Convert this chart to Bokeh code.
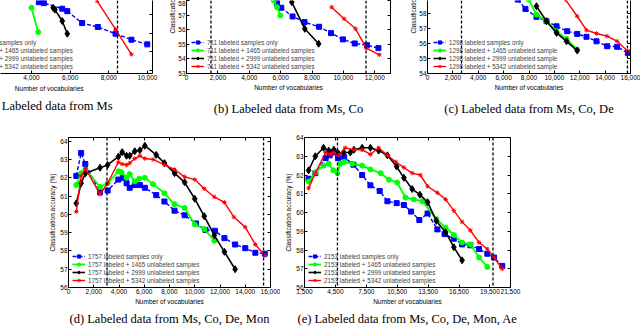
from bokeh.plotting import figure
from bokeh.models import (Legend, LegendItem, Span, LinearAxis, FixedTicker, Title,
                          NumeralTickFormatter, Range1d, CustomLabelingPolicy)
from bokeh.layouts import row, column
from bokeh.embed import file_html
from bokeh.resources import INLINE

# ---------------- data ----------------
# (a) Labeled data from Ms
a_x_blue = [4380, 4640, 5590, 5850, 6620, 7430, 8350, 9170, 9990]
a_y_blue = [57.66, 57.61, 57.31, 57.18, 56.54, 56.33, 55.97, 55.65, 55.4]
a_x_green = [4000, 4345]
a_y_green = [57.36, 56.06]
a_x_black = [5120, 5210, 5590, 5850]
a_y_black = [57.36, 57.26, 56.65, 55.97]
a_x_red = [7400, 8350, 9170]
a_y_red = [57.72, 56.2, 54.87]
a_bounds = [8450]
a_labels = ["356 labeled samples only", "356 labeled + 1465 unlabeled samples",
            "356 labeled + 2999 unlabeled samples", "356 labeled + 5342 unlabeled samples"]
a_xticks = [2000, 4000, 6000, 8000, 10000]
a_yticks = [54, 55, 56, 57]

# (b) Labeled data from Ms, Co
b_x_blue = [5770, 6040, 6760, 7520, 8450, 9210, 9970, 10720, 11500, 12230]
b_y_blue = [57.85, 57.53, 56.93, 56.54, 56.22, 55.78, 55.35, 55.07, 54.95, 54.75]
b_x_green = [5560, 5770, 5980]
b_y_green = [58.03, 57.57, 57.0]
b_x_black = [6710, 7540, 8420]
b_y_black = [57.92, 56.08, 55.05]
b_x_red = [9250, 10040, 10770, 11460, 12290]
b_y_red = [57.57, 56.77, 56.08, 54.75, 54.29]
b_bounds = [1560, 11440]
b_labels = ["711 labeled samples only", "711 labeled + 1465 unlabeled samples",
            "711 labeled + 2999 unlabeled samples", "711 labeled + 5342 unlabeled samples"]
b_xticks = [0, 2000, 4000, 6000, 8000, 10000, 12000]
b_yticks = [53, 54, 55, 56, 57, 58]

# (c) Labeled data from Ms, Co, De
c_x_blue = [7120, 7720, 8590, 9380, 10170, 11010, 11800, 12530, 13320, 14160, 14950, 15790]
c_y_blue = [58.93, 58.31, 57.78, 57.49, 57.15, 56.82, 56.64, 56.45, 56.15, 55.82, 55.78, 55.38]
c_x_green = [7980, 8590, 9380, 10170, 10960, 11800]
c_y_green = [58.93, 57.93, 57.49, 56.82, 56.31, 55.6]
c_x_black = [8590, 9380, 10170, 10960, 11800]
c_y_black = [58.49, 57.49, 56.71, 56.15, 55.53]
c_x_red = [10870, 11800, 12530, 13320, 14160, 14950, 15790]
c_y_red = [58.93, 57.82, 56.89, 56.67, 56.49, 56.15, 55.49]
c_bounds = [2680, 15760]
c_labels = ["1298 labeled samples only", "1298 labeled + 1465 unlabeled sample",
            "1298 labeled + 2999 unlabeled sample", "1298 labeled + 5342 unlabeled sample"]
c_xticks = [0, 2000, 4000, 6000, 8000, 10000, 12000, 14000, 16000]
c_yticks = [54, 55, 56, 57, 58]

# (d) Labeled data from Ms, Co, De, Mon
d_x_blue = [620, 1000, 1330, 2500, 3100, 3950, 4300, 4600, 4850, 5250, 5650, 6050, 6950,
            7600, 8400, 9200, 10100, 10850, 11600, 12350, 13200, 14000, 14800, 15550]
d_y_blue = [62.1, 63.35, 62.75, 61.2, 61.3, 61.9, 62.0, 61.7, 61.45, 61.6, 61.6, 61.45, 61.05,
            60.7, 60.2, 59.95, 59.5, 59.15, 59.1, 58.7, 58.35, 58.15, 57.9, 57.85]
d_x_green = [620, 1000, 1350, 2500, 3100, 3950, 4200, 4600, 4850, 5250, 5600, 6050, 6700,
             7600, 8400, 9200, 10000, 10750, 11550]
d_y_green = [61.6, 62.25, 62.45, 61.5, 61.7, 62.35, 62.3, 62.0, 62.2, 61.8, 61.95, 62.0, 61.65,
             61.15, 60.55, 60.35, 59.45, 59.2, 58.55]
d_x_black = [620, 1000, 1350, 2500, 3100, 3950, 4250, 4600, 4850, 5250, 5650, 6050, 6950,
             7600, 8400, 9200, 10000, 10750, 11550, 12350, 13200]
d_y_black = [60.6, 61.7, 62.25, 62.55, 62.7, 63.15, 63.4, 63.2, 63.2, 63.45, 63.5, 63.75, 63.25,
             62.8, 62.25, 61.75, 60.85, 59.9, 58.85, 57.95, 57.0]
d_x_red = [620, 1000, 1350, 2500, 3100, 3950, 4250, 4600, 4850, 5250, 5650, 6050, 6700,
           7600, 8400, 9200, 10000, 10750, 11550, 12350, 13100, 14000, 14800, 15550]
d_y_red = [60.15, 62.1, 62.5, 61.1, 61.7, 62.85, 62.75, 62.7, 62.8, 63.05, 63.2, 63.05, 63.0,
           62.7, 62.45, 62.05, 61.9, 61.4, 60.95, 60.65, 59.85, 59.3, 58.35, 57.75]
d_bounds = [3050, 15450]
d_labels = ["1757 labeled samples only", "1757 labeled + 1465 unlabeled samples",
            "1757 labeled + 2999 unlabeled samples", "1757 labeled + 5342 unlabeled samples"]
d_xticks = [0, 2000, 4000, 6000, 8000, 10000, 12000, 14000, 16000]
d_yticks = [56, 57, 58, 59, 60, 61, 62, 63, 64]

# (e) Labeled data from Ms, Co, De, Mon, Ae
e_x_blue = [1900, 2550, 3550, 3950, 4350, 4750, 5350, 6250, 7100, 7900, 8800, 9550, 10450,
            11150, 11850, 12650, 13450, 14400, 15100, 16000, 16800, 17600, 18450, 19250, 19900, 20700]
e_y_blue = [61.8, 62.1, 62.9, 63.05, 63.2, 62.9, 62.95, 62.55, 62.0, 61.45, 61.15, 60.6, 60.5,
            60.4, 60.05, 59.6, 59.95, 59.1, 58.85, 58.6, 58.3, 58.25, 58.05, 57.8, 57.6, 57.15]
e_x_green = [1900, 2550, 3350, 3850, 4300, 4700, 4950, 5350, 6150, 7100, 7900, 8900, 9700,
             10500, 11300, 12100, 12950, 14300, 15200, 16000, 16800, 17600, 18450, 19250]
e_y_green = [61.65, 62.15, 62.5, 62.6, 62.25, 62.1, 62.6, 62.7, 62.6, 62.5, 62.3, 62.1, 61.75,
             61.6, 60.8, 60.7, 60.6, 59.65, 59.2, 58.8, 58.4, 58.3, 57.6, 57.1]
e_x_black = [1900, 2550, 3350, 3850, 4350, 4800, 5300, 5950, 6300, 7100, 7900, 8700, 9550,
             10450, 11150, 11950, 12700, 13450, 14300, 15200, 16000, 16800]
e_y_black = [62.25, 63.0, 63.45, 63.3, 63.35, 63.15, 63.2, 63.2, 63.35, 63.45, 63.45, 63.3, 63.05,
             62.45, 61.85, 61.25, 60.95, 60.55, 59.55, 58.95, 58.15, 57.45]
e_x_red = [1900, 2550, 3550, 4000, 4350, 4800, 5450, 6300, 7100, 7900, 8700, 9550, 10350,
           11150, 11950, 12750, 13450, 14400, 15200, 16000, 16800, 17600, 18450, 19250, 19900, 20700]
e_y_red = [61.3, 62.1, 63.2, 63.1, 63.2, 63.05, 63.45, 63.35, 63.35, 63.1, 63.45, 63.05, 62.7,
           62.4, 62.1, 62.0, 61.4, 61.05, 60.7, 60.1, 59.5, 59.05, 58.4, 58.05, 57.6, 57.0]
e_bounds = [4700, 19800]
e_labels = ["2153 labeled samples only", "2153 labeled + 1465 unlabeled samples",
            "2153 labeled + 2999 unlabeled samples", "2153 labeled + 5342 unlabeled samples"]
e_xticks = [1500, 4500, 7500, 10500, 13500, 16500, 19500, 21500]
e_yticks = [56, 57, 58, 59, 60, 61, 62, 63, 64]

captions = ["(a) Labeled data from Ms", "(b) Labeled data from Ms, Co",
            "(c) Labeled data from Ms, Co, De", "(d) Labeled data from Ms, Co, De, Mon",
            "(e) Labeled data from Ms, Co, De, Mon, Ae"]
XLABEL = "Number of vocabularies"
YLABEL = "Classification accuracy (%)"

# ---------------- styling ----------------
BLUE, GREEN, BLACK, RED = "#0000ff", "#00ff00", "#000000", "#ff0000"
SANS = "Liberation Sans"
SERIF = "Liberation Serif"
FS = "6.5px"
NO_LABELS = "for (const i of indices) { indices.unset(i) }\nreturn indices"


def style_axis(ax, labels=True):
    ax.major_tick_in = 3
    ax.major_tick_out = 0
    ax.minor_tick_line_color = None
    ax.axis_line_color = "black"
    ax.axis_line_width = 1
    ax.major_tick_line_color = "black"
    ax.major_label_text_font = SANS
    ax.major_label_text_color = "black"
    ax.major_label_text_font_size = FS
    ax.axis_label_text_font = SANS
    ax.axis_label_text_font_size = FS
    ax.axis_label_text_font_style = "normal"
    ax.axis_label_text_color = "black"
    ax.axis_label_standoff = 1
    ax.major_label_standoff = 1
    if not labels:
        ax.major_label_policy = CustomLabelingPolicy(code=NO_LABELS)
        ax.major_label_standoff = 0


def make_panel(w, h, xr, yr, borders, xticks, yticks, left=True, top=False,
               xlabel=True, ylabel=True):
    p = figure(width=w, height=h, x_range=Range1d(*xr), y_range=Range1d(*yr),
               output_backend="svg", toolbar_location=None, title=None,
               y_axis_location="left" if left else None,
               min_border_left=borders[0], min_border_right=borders[1],
               min_border_top=borders[2], min_border_bottom=borders[3])
    p.outline_line_color = None
    p.xgrid.visible = False
    p.ygrid.visible = False
    p.background_fill_color = "white"
    p.border_fill_color = "white"
    xa = p.xaxis[0]
    xa.ticker = FixedTicker(ticks=xticks)
    xa.formatter = NumeralTickFormatter(format="0,0")
    if xlabel:
        xa.axis_label = XLABEL
    style_axis(xa)
    if left:
        ya = p.yaxis[0]
        ya.ticker = FixedTicker(ticks=yticks)
        if ylabel:
            ya.axis_label = YLABEL
        style_axis(ya)
    ra = LinearAxis(ticker=FixedTicker(ticks=yticks))
    style_axis(ra, labels=False)
    p.add_layout(ra, "right")
    if top:
        ta = LinearAxis(ticker=FixedTicker(ticks=xticks))
        style_axis(ta, labels=False)
        p.add_layout(ta, "above")
    return p


def add_series(p, xs, ys, labels, bounds, loc):
    specs = [
        dict(color=BLUE, dash="4 2", marker="square", size=5, lw=1.4),
        dict(color=GREEN, dash="solid", marker="circle", size=5, lw=1.8),
        dict(color=BLACK, dash="solid", marker="diamond", size=7, lw=1.6),
        dict(color=RED, dash="solid", marker="asterisk", size=4.5, lw=1.4),
    ]
    items = []
    for x, y, lab, s in zip(xs, ys, labels, specs):
        l = p.line(x, y, line_color=s["color"], line_width=s["lw"], line_dash=s["dash"])
        m = p.scatter(x, y, marker=s["marker"], size=s["size"], fill_color=s["color"],
                      line_color=s["color"], line_width=1)
        items.append(LegendItem(label=lab, renderers=[l, m]))
    for b in bounds:
        p.add_layout(Span(location=b, dimension="height", line_color="black",
                          line_dash="3 2", line_width=1.3))
    leg = Legend(items=items, location=loc, label_text_font=SANS, label_text_font_size="6.3px",
                 glyph_width=13, glyph_height=8, label_height=8, label_standoff=3,
                 spacing=0, padding=0, margin=0, background_fill_alpha=0,
                 border_line_color=None)
    p.add_layout(leg)


def side_title(p, text, place, align, offset, standoff, font=SANS, size=FS):
    p.add_layout(Title(text=text, align=align, offset=offset, standoff=standoff,
                       text_font=font, text_font_size=size, text_font_style="normal",
                       text_color="black"), place)


# ---------------- top row (0..125) ----------------
TOP_H = 125
pa = make_panel(165, TOP_H, (2396, 10260), (53.84, 57.75), (0, 13, 0, 52), a_xticks, a_yticks,
                left=False, xlabel=False)
add_series(pa, [a_x_blue, a_x_green, a_x_black, a_x_red], [a_y_blue, a_y_green, a_y_black, a_y_red],
           a_labels, a_bounds, (-51, 3))
side_title(pa, XLABEL, "below", "right", 69, 0)
side_title(pa, captions[0], "below", "right", 40, 11, font=SERIF, size="12.5px")

pb = make_panel(235, TOP_H, (0, 13000), (53.0, 58.03), (21, 6, 0, 52), b_xticks, b_yticks,
                ylabel=False)
side_title(pb, YLABEL, "left", "left", 40, 0)
add_series(pb, [b_x_blue, b_x_green, b_x_black, b_x_red], [b_y_blue, b_y_green, b_y_black, b_y_red],
           b_labels, b_bounds, (5, 3))
side_title(pb, captions[1], "below", "center", 0, 13, font=SERIF, size="12.5px")

pc = make_panel(240, TOP_H, (0, 16000), (54.0, 58.87), (27, 10, 0, 52), c_xticks, c_yticks,
                ylabel=False)
side_title(pc, YLABEL, "left", "left", 40, 0)
add_series(pc, [c_x_blue, c_x_green, c_x_black, c_x_red], [c_y_blue, c_y_green, c_y_black, c_y_red],
           c_labels, c_bounds, (6, 3))
side_title(pc, captions[2], "below", "center", 0, 13, font=SERIF, size="12.5px")

# ---------------- bottom row (125..327) ----------------
BOT_H = 202
pd = make_panel(280, BOT_H, (0, 16000), (56, 64.2), (68, 9, 12, 38), d_xticks, d_yticks, top=True)
add_series(pd, [d_x_blue, d_x_green, d_x_black, d_x_red], [d_y_blue, d_y_green, d_y_black, d_y_red],
           d_labels, d_bounds, (4, 3))
side_title(pd, captions[3], "below", "center", 0, 4, font=SERIF, size="12.5px")

pe = make_panel(360, BOT_H, (1500, 21500), (56, 64), (24, 130, 12, 38), e_xticks, e_yticks, top=True)
add_series(pe, [e_x_blue, e_x_green, e_x_black, e_x_red], [e_y_blue, e_y_green, e_y_black, e_y_red],
           e_labels, e_bounds, (4, 3))
side_title(pe, captions[4], "below", "center", 0, 4, font=SERIF, size="12.5px")

layout = column(row(pa, pb, pc), row(pd, pe))
open("out.html", "w").write(file_html(layout, INLINE))
